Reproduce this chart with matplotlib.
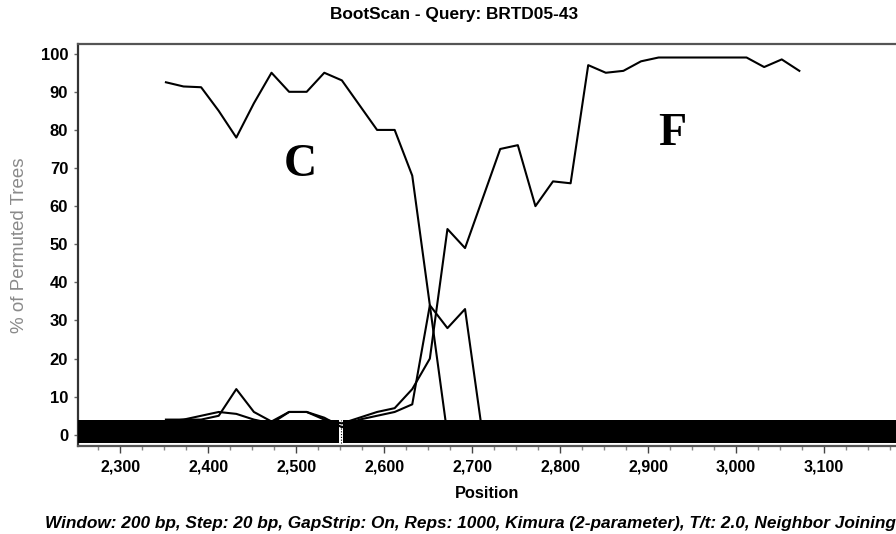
import numpy as np
import matplotlib
matplotlib.use("Agg")
import matplotlib.pyplot as plt
from matplotlib.ticker import MultipleLocator, FuncFormatter

# window midpoints (bp), step 20
position = list(range(2352, 3073, 20))

# % of permuted trees for each reference subtype
subtype_c = [92.5, 91.4, 91.2, 85, 78, 87, 95, 90, 90, 95, 93, 86.5, 80, 80, 68,
             34, 0, 0, 0, 0, 0, 0, 0, 0, 0, 0, 0, 0, 0, 0, 0, 0, 0, 0, 0, 0, 0]
subtype_f = [4, 4, 5, 6, 5.5, 4, 3, 6, 6, 4, 3, 4.5, 6, 7, 12,
             20, 54, 49, 62, 75, 76, 60, 66.5, 66, 97, 95, 95.5, 98, 99, 99,
             99, 99, 99, 99, 96.5, 98.5, 95.5]
subtype_other = [3.5, 4, 4, 5, 12, 6, 3.5, 6, 6, 4.5, 2, 4, 5, 6, 8,
                 34, 28, 33, 0, 0, 0, 0, 0, 0, 0, 0, 0, 0, 0, 0, 0, 0, 0, 0, 0, 0, 0]

# gap strip segments (start, end) in bp
gap_strip = [(2252, 2549), (2553, 3189)]

title = "BootScan - Query: BRTD05-43"
caption = ("Window: 200 bp, Step: 20 bp, GapStrip: On, Reps: 1000, "
           "Kimura (2-parameter), T/t: 2.0, Neighbor Joining")

plt.rcParams['font.family'] = ['Liberation Sans', 'DejaVu Sans']

fig = plt.figure(figsize=(8.96, 5.34), dpi=100)
ax = fig.add_axes([0.087, 0.165, 0.92, 0.753])

for series in (subtype_c, subtype_other, subtype_f):
    ax.plot(position, series, color='black', lw=1.5, zorder=3)

# black gap strip along the bottom
for start, end in gap_strip:
    ax.fill_between([start, end], -2.1, 3.8, color='black', lw=0, zorder=4)
ax.plot([2551, 2551], [-2.1, 3.8], color='black', lw=0.8, ls=(0, (1, 1.5)), zorder=4)

ax.text(2505, 70.7, "C", family=['Liberation Serif'], fontweight='bold',
        fontsize=33, ha='center', va='center')
ax.text(2927, 79, "F", family=['Liberation Serif'], fontweight='bold',
        fontsize=33, ha='center', va='center')

ax.set_xlim(2252, 3189)
ax.set_ylim(-2.9, 102.6)

ax.xaxis.set_major_locator(MultipleLocator(100))
ax.xaxis.set_minor_locator(MultipleLocator(25))
ax.xaxis.set_major_formatter(FuncFormatter(lambda v, p: f"{int(v):,}"))
ax.yaxis.set_major_locator(MultipleLocator(10))

ax.tick_params(axis='x', which='major', length=5, width=1, color='#444444',
               labelsize=11.5, pad=5)
ax.tick_params(axis='x', which='minor', length=3, width=1, color='#888888')
ax.tick_params(axis='y', length=3, width=1, color='#666666', labelsize=12, pad=4)
for lab in ax.get_xticklabels() + ax.get_yticklabels():
    lab.set_fontweight('bold')

for side in ('top', 'bottom', 'left', 'right'):
    ax.spines[side].set_color('#555555')
    ax.spines[side].set_linewidth(1.6)
ax.spines['left'].set_color('#333333')

ax.set_xlabel("Position", fontsize=11.8, fontweight='bold')
ax.xaxis.set_label_coords(0.496, -0.0995)
ax.set_ylabel("% of Permuted Trees", fontsize=13.5, color='#8a8a8a')
ax.yaxis.set_label_coords(-0.061, 0.5)

fig.text(0.507, 0.973, title, fontsize=12.4, fontweight='bold', ha='center', va='center')
fig.text(0.05, 0.02, caption, fontsize=12.4, fontweight='bold', style='italic',
         ha='left', va='center')

fig.savefig("out.png", dpi=100)
